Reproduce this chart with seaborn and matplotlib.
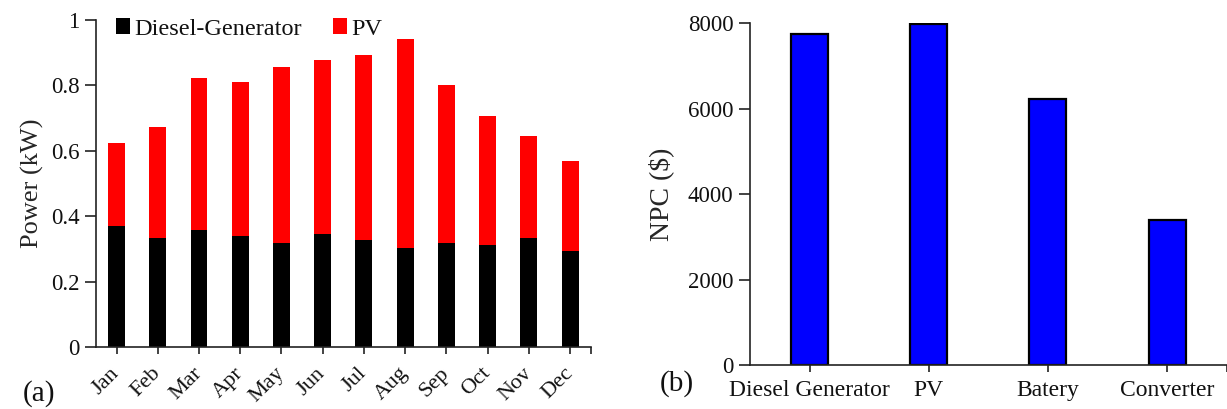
import matplotlib
matplotlib.use("Agg")
import matplotlib.pyplot as plt
from matplotlib.patches import Patch
from matplotlib.transforms import ScaledTranslation
import seaborn as sns
import pandas as pd

# Monthly average power by source (kW)
months = ["Jan", "Feb", "Mar", "Apr", "May", "Jun",
          "Jul", "Aug", "Sep", "Oct", "Nov", "Dec"]
diesel_kw = [0.370, 0.334, 0.358, 0.338, 0.318, 0.346,
             0.326, 0.303, 0.318, 0.311, 0.334, 0.295]
pv_kw = [0.255, 0.338, 0.464, 0.472, 0.539, 0.531,
         0.567, 0.640, 0.483, 0.396, 0.310, 0.275]

# Net present cost per component ($)
components = ["Diesel Generator", "PV", "Batery", "Converter"]
npc_usd = [7750, 7990, 6230, 3400]

sns.set_style("ticks")
plt.rcParams["font.family"] = ["Liberation Serif", "DejaVu Serif"]
plt.rcParams["axes.linewidth"] = 1.2
plt.rcParams["xtick.major.width"] = 1.2
plt.rcParams["ytick.major.width"] = 1.2
plt.rcParams["xtick.color"] = "#222222"
plt.rcParams["ytick.color"] = "#222222"
plt.rcParams["axes.edgecolor"] = "#222222"
plt.rcParams["text.color"] = "#111111"
plt.rcParams["xtick.labelcolor"] = "#111111"
plt.rcParams["ytick.labelcolor"] = "#111111"

fig = plt.figure(figsize=(12.27, 4.09), dpi=100)
ax1 = fig.add_axes([0.0782, 0.1516, 0.4032, 0.7995])
ax2 = fig.add_axes([0.6112, 0.1076, 0.3885, 0.8355])

# ---- (a) stacked monthly power ----
df_power = pd.DataFrame({
    "month": months,
    "diesel": diesel_kw,
    "total": [d + p for d, p in zip(diesel_kw, pv_kw)],
})
sns.barplot(data=df_power, x="month", y="total", color="#FF0000",
            saturation=1, width=0.41, linewidth=0, ax=ax1)
sns.barplot(data=df_power, x="month", y="diesel", color="#000000",
            saturation=1, width=0.41, linewidth=0, ax=ax1)
ax1.set_xlim(-0.5, 11.5)
ax1.set_ylim(0, 1)
ax1.set_yticks([0, 0.2, 0.4, 0.6, 0.8, 1.0])
ax1.set_yticklabels(["0", "0.2", "0.4", "0.6", "0.8", "1"], fontsize=16.5)
ax1.set_xticks(list(range(12)) + [11.5])
ax1.set_xticklabels(months + [""], fontsize=16, rotation=45,
                    ha="right", va="center", rotation_mode="anchor")
shift = ScaledTranslation(5 / 100, 0, fig.dpi_scale_trans)
for lbl in ax1.get_xticklabels():
    lbl.set_transform(lbl.get_transform() + shift)
ax1.tick_params(axis="x", length=5, pad=12)
ax1.tick_params(axis="y", length=8, pad=4)
ax1.set_xlabel("")
ax1.set_ylabel("Power (kW)", fontsize=19, labelpad=5)
sns.despine(ax=ax1)
handles = [Patch(facecolor="#000000", edgecolor="none", label="Diesel-Generator"),
           Patch(facecolor="#FF0000", edgecolor="none", label="PV")]
ax1.legend(handles=handles, loc="upper left", bbox_to_anchor=(0.02, 1.035),
           frameon=False, fontsize=17.5, ncol=2, handlelength=0.6,
           handleheight=0.6, handletextpad=0.15, columnspacing=1.3,
           borderaxespad=0)
fig.text(0.0314, 0.037, "(a)", fontsize=21, ha="center", va="center")

# ---- (b) NPC by component ----
df_npc = pd.DataFrame({"component": components, "npc": npc_usd})
sns.barplot(data=df_npc, x="component", y="npc", color="#0000FF",
            saturation=1, width=0.31, edgecolor="#000000", linewidth=1.6,
            ax=ax2)
ax2.set_xlim(-0.5, 3.5)
ax2.set_ylim(0, 8000)
ax2.set_yticks([0, 2000, 4000, 6000, 8000])
ax2.set_yticklabels(["0", "2000", "4000", "6000", "8000"], fontsize=16.5)
ax2.set_xticks(list(range(4)) + [3.5])
ax2.set_xticklabels(components + [""], fontsize=17)
ax2.tick_params(axis="x", length=5, pad=6)
ax2.tick_params(axis="y", length=8, pad=4)
ax2.set_xlabel("")
ax2.set_ylabel("NPC ($)", fontsize=20, labelpad=10)
sns.despine(ax=ax2)
fig.text(0.5515, 0.062, "(b)", fontsize=21, ha="center", va="center")

fig.savefig("out.png", dpi=100)
